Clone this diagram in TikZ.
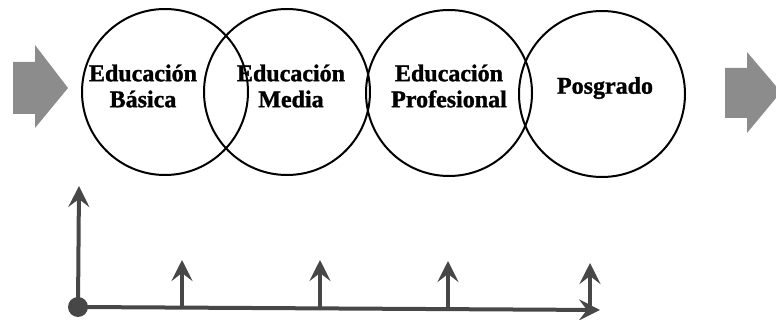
\documentclass[tikz,border=0pt]{standalone}
\usepackage{fontspec}
\setmainfont[BoldFeatures={FakeBold=1.3}]{Liberation Serif}
\usetikzlibrary{arrows.meta}
\definecolor{arrowgray}{HTML}{8C8C8C}
\definecolor{axisgray}{HTML}{474747}
\tikzset{
  stage/.style={circle, draw=black, line width=2pt, minimum size=166pt, inner sep=0pt},
  stagetext/.style={font=\fontsize{24}{26}\selectfont\bfseries, align=center, inner sep=0pt},
  flowarrow/.style={fill=arrowgray, draw=none},
  axisline/.style={draw=axisgray, line width=4pt, -{Stealth[length=21pt,width=21pt,inset=8pt]}},
  tickarrow/.style={draw=axisgray, line width=4pt, -{Stealth[length=21pt,width=21pt,inset=8pt]}},
  origin/.style={circle, fill=axisgray, minimum size=20pt, inner sep=0pt}
}
\begin{document}
\begin{tikzpicture}[x=1pt,y=-1pt]
\useasboundingbox (0,0) rectangle (776,320);
\clip (0,0) rectangle (776,320);
% stages
\node[stage] (c1) at (165,92) {};
\node[stage] (c2) at (287,92) {};
\node[stage] (c3) at (449,93) {};
\node[stage] (c4) at (602,94) {};
\node[stagetext] (t1) at (143,86) {Educación\\Básica};
\node[stagetext] (t2) at (291,86) {Educación\\Media};
\node[stagetext] (t3) at (449,86) {Educación\\Profesional};
\node[stagetext] (t4) at (605,88) {Posgrado};
% big gray arrows
\path[flowarrow] (13,62) -- (35,62) -- (35,45) -- (68,88) -- (35,128) -- (35,114) -- (13,114) -- cycle;
\path[flowarrow] (725,68) -- (747,68) -- (747,52) -- (781,92) -- (747,133) -- (747,118) -- (725,118) -- cycle;
% axes
\node[origin] (o) at (78,307) {};
\coordinate (xend) at (600,310);
\coordinate (yend) at (79,186);
\draw[axisline] (o.center) -- (xend);
\draw[axisline] (o.center) -- (yend);
% tick arrows
\coordinate (b1) at (182,308);
\coordinate (b2) at (320,309);
\coordinate (b3) at (448,309);
\coordinate (b4) at (590,310);
\coordinate (u1) at (182,260);
\coordinate (u2) at (320,260);
\coordinate (u3) at (448,261);
\coordinate (u4) at (590,263);
\draw[tickarrow] (b1) -- (u1);
\draw[tickarrow] (b2) -- (u2);
\draw[tickarrow] (b3) -- (u3);
\draw[tickarrow] (b4) -- (u4);
\end{tikzpicture}
\end{document}
